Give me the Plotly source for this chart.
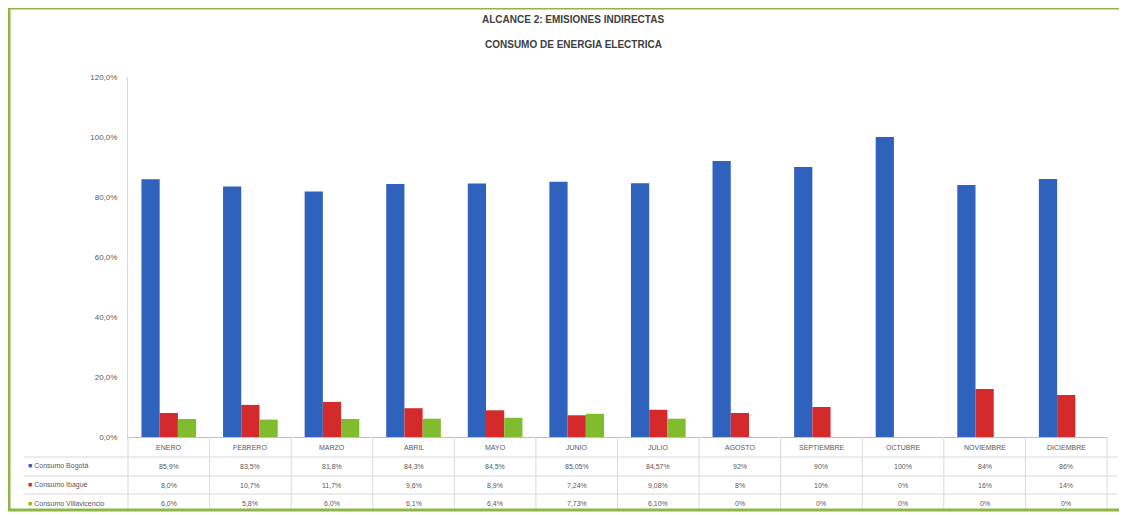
import plotly.graph_objects as go

months = ["ENERO", "FEBRERO", "MARZO", "ABRIL", "MAYO", "JUNIO", "JULIO",
          "AGOSTO", "SEPTIEMBRE", "OCTUBRE", "NOVIEMBRE", "DICIEMBRE"]
series_names = ["Consumo Bogotá", "Consumo Ibagué", "Consumo Villavicencio"]
bogota = [85.9, 83.5, 81.8, 84.3, 84.5, 85.05, 84.57, 92, 90, 100, 84, 86]
ibague = [8.0, 10.7, 11.7, 9.6, 8.9, 7.24, 9.08, 8, 10, 0, 16, 14]
villavo = [6.0, 5.8, 6.0, 6.1, 6.4, 7.73, 6.10, 0, 0, 0, 0, 0]
bogota_txt = ["85,9%", "83,5%", "81,8%", "84,3%", "84,5%", "85,05%", "84,57%",
              "92%", "90%", "100%", "84%", "86%"]
ibague_txt = ["8,0%", "10,7%", "11,7%", "9,6%", "8,9%", "7,24%", "9,08%",
              "8%", "10%", "0%", "16%", "14%"]
villavo_txt = ["6,0%", "5,8%", "6,0%", "6,1%", "6,4%", "7,73%", "6,10%",
               "0%", "0%", "0%", "0%", "0%"]
y_ticks = [0, 20, 40, 60, 80, 100, 120]
y_ticktext = ["0,0%", "20,0%", "40,0%", "60,0%", "80,0%", "100,0%", "120,0%"]
title_lines = ["ALCANCE 2: EMISIONES INDIRECTAS", "CONSUMO DE ENERGIA ELECTRICA"]

colors = ["#2E62BC", "#D42A2C", "#80BC2E"]
FONT = "Liberation Sans Narrow, Liberation Sans, Arial"
GRAY = "#595959"

OFF = 8  # page body margin
W, H = 1127 - OFF, 515 - OFF
L, R, T, B = 128 - OFF, 20, 77 - OFF, 78
PH = H - T - B
PW = W - L - R

def py(p):  # page pixel y -> paper y
    return (H - B - (p - OFF)) / PH

def px(p):  # page pixel x -> paper x
    return ((p - OFF) - L) / PW

fig = go.Figure()
for name, vals, col in zip(series_names, [bogota, ibague, villavo], colors):
    fig.add_trace(go.Bar(x=months, y=vals, name=name, marker_color=col,
                         marker_line_width=0))

annotations = []
for line, ty in zip(title_lines, [20, 44]):
    annotations.append(dict(text="<b>" + line + "</b>",
                            x=px(573), xref="paper", xanchor="center",
                            y=py(ty), yref="paper", yanchor="middle",
                            showarrow=False, font=dict(family=FONT, size=10, color="#404040")))
for m in months:
    annotations.append(dict(text=m, x=m, xref="x", y=py(448), yref="paper",
                            yanchor="middle", showarrow=False,
                            font=dict(family=FONT, size=7, color=GRAY)))
row_y = [466, 485, 503]
for txts, ry in zip([bogota_txt, ibague_txt, villavo_txt], row_y):
    for m, t in zip(months, txts):
        annotations.append(dict(text=t, x=m, xref="x", y=py(ry), yref="paper",
                                yanchor="middle", showarrow=False,
                                font=dict(family=FONT, size=7, color=GRAY)))
for name, col, ry in zip(series_names, colors, row_y):
    annotations.append(dict(text="<span style='color:%s'>■</span> %s" % (col, name),
                            x=px(26), xref="paper", xanchor="left",
                            y=py(ry), yref="paper", yanchor="middle", showarrow=False,
                            font=dict(family=FONT, size=7, color=GRAY)))

shapes = []
line_col = "#D9D9D9"
for hy in [457, 476, 494]:
    shapes.append(dict(type="line", xref="paper", yref="paper",
                       x0=px(24), x1=px(1118), y0=py(hy), y1=py(hy),
                       line=dict(color=line_col, width=1)))
step = PW / len(months)
for i in range(len(months) + 1):
    vx = L + OFF + i * step
    shapes.append(dict(type="line", xref="paper", yref="paper",
                       x0=px(vx), x1=px(vx), y0=py(437), y1=py(510),
                       line=dict(color=line_col, width=1)))
shapes.append(dict(type="rect", xref="paper", yref="paper",
                   x0=px(9), x1=px(1121), y0=py(8), y1=py(510),
                   line=dict(color="#8DB646", width=3)))

fig.update_layout(
    width=W, height=H,
    margin=dict(l=L, r=R, t=T, b=B),
    paper_bgcolor="white", plot_bgcolor="white",
    barmode="group", bargap=0.33, bargroupgap=0,
    showlegend=False,
    annotations=annotations, shapes=shapes,
    font=dict(family=FONT, color=GRAY),
)
fig.update_xaxes(showticklabels=False, showgrid=False, showline=True,
                 linecolor="#BFBFBF", linewidth=1, ticks="")
fig.update_yaxes(range=[0, 120], tickvals=y_ticks, ticktext=y_ticktext,
                 showgrid=False, showline=True, linecolor="#D9D9D9", linewidth=1,
                 ticks="", tickfont=dict(family=FONT, size=8, color=GRAY),
                 ticklabelstandoff=8, zeroline=False)

fig.write_html("out.html")
